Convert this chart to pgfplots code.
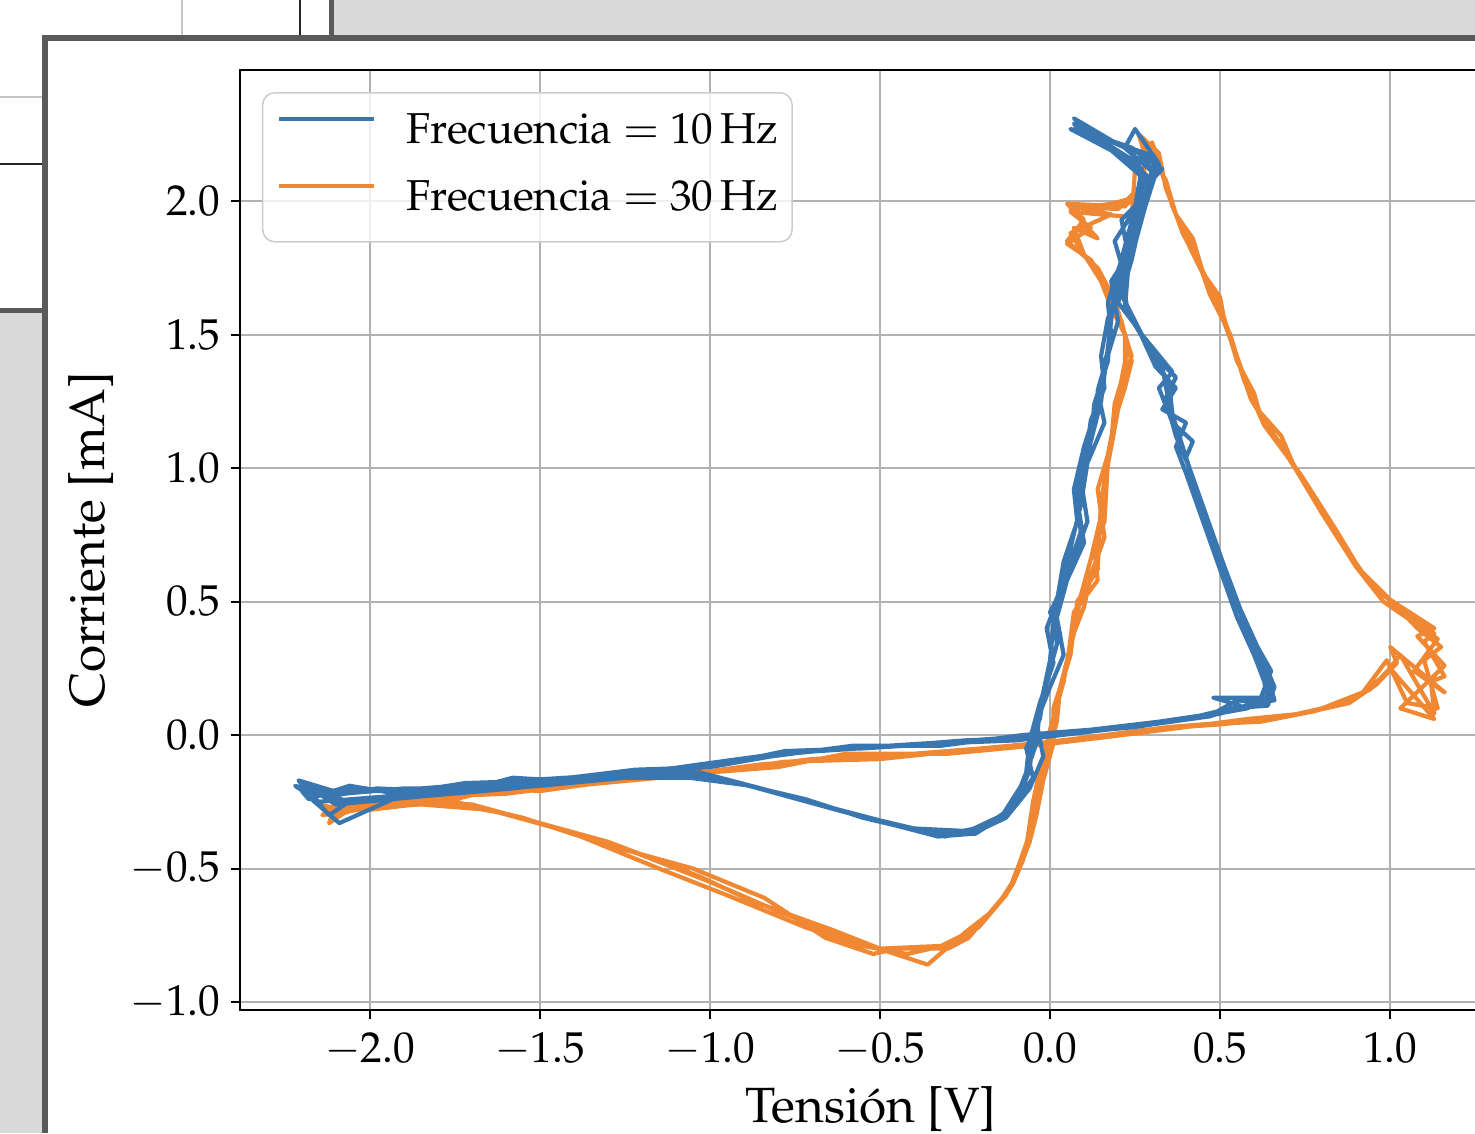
\documentclass[border=0pt]{standalone}
\usepackage[T1]{fontenc}
\usepackage{mathpazo}
\usepackage{pgfplots}
\pgfplotsset{compat=1.18}

\definecolor{c10}{RGB}{58,119,176}
\definecolor{c30}{RGB}{239,135,51}
\definecolor{uigray}{RGB}{217,217,217}
\definecolor{uidark}{RGB}{90,90,90}
\definecolor{gridc}{RGB}{178,178,178}
\definecolor{legc}{RGB}{204,204,204}

\newcommand{\tickfont}{\fontsize{12.3}{14}\selectfont}
\newcommand{\labfont}{\fontsize{14.1}{16}\selectfont}

\begin{document}
\begin{tikzpicture}
  \useasboundingbox (0,0) rectangle (147.5mm,113.3mm);
  \clip (0,0) rectangle (147.5mm,113.3mm);
  % window frame around the figure
  \fill[uigray] (33.4mm,109.8mm) rectangle (147.5mm,113.3mm);
  \fill[uigray] (0,0) rectangle (4.2mm,82.0mm);
  \fill[uidark] (4.2mm,109.2mm) rectangle (147.5mm,109.8mm);
  \fill[uidark] (4.2mm,0) rectangle (4.8mm,109.8mm);
  \fill[uidark] (32.9mm,109.8mm) rectangle (33.4mm,113.3mm);
  \fill[uidark] (0,82.0mm) rectangle (4.2mm,82.5mm);
  \draw[gray!45, line width=0.15mm] (18.2mm,109.8mm) -- (18.2mm,113.3mm);
  \draw[black!85, line width=0.12mm] (30.0mm,109.8mm) -- (30.0mm,113.3mm);
  \draw[gray!45, line width=0.15mm] (0,103.6mm) -- (4.2mm,103.6mm);
  \draw[black!85, line width=0.12mm] (0,96.9mm) -- (4.2mm,96.9mm);

  \begin{axis}[
    at={(24mm,12.3mm)}, anchor=south west,
    scale only axis, width=126.2mm, height=94mm,
    xmin=-2.382, xmax=1.329, ymin=-1.030, ymax=2.491,
    xtick={-2,-1.5,...,1}, ytick={-1,-0.5,...,2},
    tick pos=left,
    tick align=outside, major tick length=0.9mm,
    tick style={black, line width=0.2mm},
    axis line style={black, line width=0.2mm},
    grid=major, major grid style={gridc, line width=0.2mm},
    xticklabel style={font=\tickfont, anchor=base, inner sep=0pt, yshift=-4.3mm,
      /pgf/number format/.cd, fixed, fixed zerofill, precision=1},
    yticklabel style={font=\tickfont, anchor=east, inner sep=0pt, xshift=-1.0mm,
      /pgf/number format/.cd, fixed, fixed zerofill, precision=1},
    xlabel={Tensi\'on [V]},
    ylabel={Corriente [mA]},
    every axis x label/.style={at={(axis description cs:0.5,0)}, yshift=-11.2mm,
      anchor=base, font=\labfont},
    every axis y label/.style={at={(axis description cs:0,0.5)}, xshift=-13.5mm,
      rotate=90, anchor=base, font=\labfont},
    legend cell align=left,
    legend style={at={(0.01743,0.9766)}, anchor=north west,
      draw=legc, line width=0.15mm, fill=white, fill opacity=0.8,
      text opacity=1, draw opacity=1, rounded corners=1.2mm,
      inner xsep=1.4mm, inner ysep=2.1mm, row sep=2.7mm,
      nodes={inner sep=0pt, text height=3.0mm, text depth=1.0mm, font=\tickfont}},
    legend image code/.code={
      \draw[#1, line width=0.42mm] (0mm,1.5mm) -- (9.5mm,1.5mm);
      \path[draw=none, fill=none] (0mm,1.5mm) -- (12.8mm,1.5mm);},
  ]
    \addlegendimage{c10}
    \addlegendentry{Frecuencia $=$ 10\,Hz}
    \addlegendimage{c30}
    \addlegendentry{Frecuencia $=$ 30\,Hz}

    % 30 Hz
    \addplot[c30, line width=0.42mm, line join=round, forget plot] coordinates {
      (-2.14,-0.27) (-2.00,-0.26) (-1.85,-0.24) (-1.65,-0.22) (-1.40,-0.19) (-1.15,-0.16)
      (-0.85,-0.11) (-0.55,-0.08) (-0.25,-0.06) (-0.02,-0.03) (0.20,0.00) (0.45,0.04)
      (0.62,0.05) (0.78,0.09) (0.90,0.14) (0.98,0.22) (1.03,0.30) (1.13,0.08) (1.12,0.20)
      (1.16,0.22) (1.10,0.35) (1.13,0.38) (1.04,0.46) (0.93,0.58) (0.84,0.77) (0.74,0.97)
      (0.66,1.11) (0.59,1.26) (0.54,1.45) (0.49,1.62) (0.46,1.70) (0.41,1.83) (0.36,1.98)
      (0.33,2.10) (0.31,2.19) (0.27,2.24) (0.28,2.06) (0.22,1.98) (0.05,1.99) (0.10,1.93)
      (0.05,1.85) (0.14,1.75) (0.19,1.63) (0.23,1.46) (0.21,1.33) (0.20,1.22) (0.18,1.08)
      (0.15,0.88) (0.14,0.62) (0.08,0.50) (0.06,0.30) (0.02,0.13) (0.00,-0.05) (-0.03,-0.13)
      (-0.05,-0.25) (-0.07,-0.42) (-0.10,-0.53) (-0.15,-0.63) (-0.21,-0.72) (-0.32,-0.79)
      (-0.50,-0.80) (-0.64,-0.73) (-0.88,-0.62) (-1.03,-0.53) (-1.30,-0.40) (-1.50,-0.33)
      (-1.70,-0.26) (-1.90,-0.25) (-2.05,-0.27) (-2.12,-0.33)
      (-2.10,-0.26) (-1.95,-0.27) (-1.80,-0.23) (-1.60,-0.22) (-1.35,-0.18) (-1.10,-0.15)
      (-0.80,-0.12) (-0.60,-0.07) (-0.30,-0.07) (-0.05,-0.04) (0.15,-0.01) (0.40,0.03)
      (0.58,0.06) (0.74,0.08) (0.88,0.12) (0.96,0.19) (1.02,0.27) (1.00,0.33) (1.16,0.16)
      (1.07,0.24) (1.14,0.36) (1.06,0.43) (0.98,0.50) (0.90,0.63) (0.80,0.83) (0.72,1.00)
      (0.68,1.12) (0.61,1.22) (0.56,1.38) (0.52,1.53) (0.48,1.66) (0.44,1.76) (0.39,1.88)
      (0.35,2.02) (0.32,2.15) (0.30,2.22) (0.25,2.12) (0.24,1.94) (0.06,1.96) (0.12,1.90)
      (0.05,1.84) (0.12,1.78) (0.17,1.67) (0.20,1.58) (0.24,1.42) (0.20,1.28) (0.19,1.15)
      (0.17,1.02) (0.16,0.80) (0.13,0.70) (0.14,0.58) (0.07,0.46) (0.05,0.26) (0.01,0.10)
      (0.01,-0.03) (-0.02,-0.17) (-0.04,-0.30) (-0.06,-0.40) (-0.09,-0.50) (-0.13,-0.60)
      (-0.19,-0.69) (-0.28,-0.78) (-0.42,-0.82) (-0.55,-0.79) (-0.72,-0.72) (-0.95,-0.60)
      (-1.15,-0.50) (-1.38,-0.38) (-1.55,-0.31) (-1.75,-0.25) (-1.98,-0.27) (-2.14,-0.30)
      (-2.13,-0.29) (-2.02,-0.25) (-1.88,-0.25) (-1.70,-0.21) (-1.45,-0.20) (-1.20,-0.16)
      (-0.95,-0.13) (-0.70,-0.09) (-0.40,-0.07) (-0.10,-0.04) (0.10,-0.01) (0.35,0.03)
      (0.55,0.05) (0.70,0.07) (0.84,0.11) (0.94,0.17) (1.00,0.25) (1.13,0.06) (1.03,0.10)
      (1.16,0.26) (1.08,0.37) (1.13,0.40) (1.02,0.49) (0.95,0.55) (0.87,0.70) (0.77,0.90)
      (0.70,1.04) (0.63,1.16) (0.57,1.33) (0.53,1.50) (0.47,1.65) (0.43,1.80) (0.38,1.92)
      (0.34,2.05) (0.32,2.18) (0.26,2.25) (0.30,2.10) (0.20,1.97) (0.07,1.98) (0.18,1.95)
      (0.06,1.88) (0.15,1.70) (0.18,1.60) (0.22,1.50) (0.22,1.37) (0.19,1.24) (0.18,1.10)
      (0.16,0.95) (0.15,0.82) (0.12,0.66) (0.09,0.52) (0.07,0.38) (0.03,0.18) (0.02,0.05)
      (-0.01,-0.09) (-0.04,-0.22) (-0.05,-0.35) (-0.08,-0.47) (-0.11,-0.56) (-0.17,-0.66)
      (-0.25,-0.74) (-0.36,-0.86) (-0.48,-0.81) (-0.60,-0.76) (-0.80,-0.66) (-1.00,-0.55)
      (-1.22,-0.44) (-1.45,-0.35) (-1.65,-0.28) (-1.85,-0.26) (-2.08,-0.28) (-2.15,-0.26)
      (-2.11,-0.31) (-1.97,-0.24) (-1.78,-0.25) (-1.62,-0.20) (-1.50,-0.21) (-1.28,-0.17)
      (-1.05,-0.15) (-0.78,-0.10) (-0.50,-0.09) (-0.20,-0.05) (0.05,-0.02) (0.28,0.02)
      (0.50,0.04) (0.66,0.06) (0.80,0.10) (0.92,0.16) (0.99,0.28) (1.05,0.12) (1.14,0.10)
      (1.10,0.28) (1.15,0.33) (1.08,0.40) (0.99,0.52) (0.91,0.62) (0.82,0.80) (0.76,0.92)
      (0.69,1.07) (0.62,1.19) (0.60,1.28) (0.55,1.40) (0.51,1.57) (0.50,1.64) (0.45,1.73)
      (0.42,1.86) (0.37,1.95) (0.34,2.08) (0.30,2.16) (0.28,2.21) (0.27,2.02) (0.18,1.99)
      (0.06,1.97) (0.14,1.86) (0.07,1.90) (0.10,1.80) (0.16,1.68) (0.21,1.55) (0.24,1.40)
      (0.22,1.30) (0.19,1.18) (0.17,1.05) (0.14,0.92) (0.16,0.74) (0.12,0.60) (0.10,0.48)
      (0.06,0.35) (0.04,0.20) (0.00,0.02) (-0.02,-0.10) (-0.03,-0.20) (-0.06,-0.37)
      (-0.09,-0.48) (-0.12,-0.58) (-0.18,-0.67) (-0.24,-0.76) (-0.30,-0.80) (-0.45,-0.80)
      (-0.52,-0.82) (-0.66,-0.76) (-0.84,-0.61) (-1.05,-0.50) (-1.25,-0.43) (-1.42,-0.36)
      (-1.62,-0.29) (-1.80,-0.25) (-2.00,-0.28) (-2.14,-0.27)
    };

    % 10 Hz
    \addplot[c10, line width=0.42mm, line join=round, forget plot] coordinates {
      (-2.20,-0.19) (-2.10,-0.21) (-1.95,-0.21) (-1.75,-0.19) (-1.50,-0.18) (-1.25,-0.15)
      (-1.03,-0.11) (-0.80,-0.07) (-0.50,-0.045) (-0.25,-0.02) (-0.05,-0.01) (0.15,0.02)
      (0.35,0.05) (0.50,0.08) (0.60,0.12) (0.66,0.13) (0.64,0.22) (0.59,0.36) (0.54,0.52)
      (0.49,0.69) (0.44,0.88) (0.39,1.07) (0.36,1.20) (0.35,1.32) (0.29,1.45) (0.22,1.60)
      (0.23,1.75) (0.26,1.92) (0.29,2.05) (0.32,2.14) (0.25,2.27) (0.22,2.20) (0.08,2.28)
      (0.17,2.21) (0.27,2.12) (0.25,1.98) (0.22,1.82) (0.19,1.66) (0.17,1.45) (0.15,1.25)
      (0.11,1.05) (0.08,0.92) (0.09,0.76) (0.05,0.61) (0.01,0.48) (0.02,0.34) (-0.02,0.15)
      (-0.05,0.00) (-0.06,-0.13) (-0.10,-0.26) (-0.20,-0.35) (-0.31,-0.38) (-0.50,-0.32)
      (-0.65,-0.27) (-0.85,-0.20) (-1.03,-0.14) (-1.25,-0.16) (-1.50,-0.19) (-1.80,-0.22)
      (-2.05,-0.24) (-2.12,-0.30)
      (-2.21,-0.17) (-2.08,-0.22) (-1.90,-0.20) (-1.70,-0.20) (-1.58,-0.16) (-1.45,-0.17)
      (-1.20,-0.14) (-1.00,-0.12) (-0.78,-0.06) (-0.55,-0.05) (-0.30,-0.03) (-0.10,-0.02)
      (0.10,0.01) (0.30,0.04) (0.47,0.07) (0.56,0.11) (0.48,0.14) (0.62,0.14) (0.65,0.24)
      (0.61,0.33) (0.56,0.47) (0.51,0.64) (0.46,0.82) (0.41,1.00) (0.37,1.12) (0.34,1.26)
      (0.37,1.34) (0.30,1.43) (0.23,1.58) (0.21,1.72) (0.24,1.86) (0.27,1.99) (0.31,2.10)
      (0.30,2.17) (0.19,2.22) (0.07,2.31) (0.14,2.24) (0.29,2.09) (0.28,2.02) (0.21,1.93)
      (0.23,1.80) (0.18,1.70) (0.20,1.55) (0.16,1.38) (0.14,1.29) (0.16,1.17) (0.11,1.02)
      (0.09,0.86) (0.06,0.70) (0.04,0.56) (0.00,0.46) (0.03,0.38) (-0.01,0.22) (-0.03,0.06)
      (-0.07,-0.05) (-0.05,-0.16) (-0.12,-0.29) (-0.22,-0.37) (-0.35,-0.37) (-0.55,-0.31)
      (-0.72,-0.24) (-0.92,-0.18) (-1.10,-0.14) (-1.35,-0.17) (-1.60,-0.20) (-1.88,-0.21)
      (-2.09,-0.33)
      (-2.19,-0.22) (-2.05,-0.20) (-1.88,-0.22) (-1.65,-0.18) (-1.40,-0.16) (-1.15,-0.13)
      (-0.95,-0.10) (-0.70,-0.06) (-0.45,-0.04) (-0.20,-0.02) (0.00,0.00) (0.20,0.03)
      (0.40,0.06) (0.53,0.10) (0.64,0.11) (0.66,0.18) (0.63,0.27) (0.58,0.40) (0.53,0.57)
      (0.48,0.73) (0.43,0.92) (0.40,1.04) (0.42,1.10) (0.36,1.17) (0.32,1.30) (0.36,1.36)
      (0.27,1.50) (0.21,1.65) (0.24,1.78) (0.27,1.95) (0.30,2.08) (0.33,2.12) (0.24,2.20)
      (0.10,2.26) (0.08,2.30) (0.20,2.18) (0.30,2.06) (0.26,1.96) (0.24,1.86) (0.20,1.73)
      (0.18,1.58) (0.17,1.40) (0.13,1.24) (0.12,1.10) (0.09,0.96) (0.11,0.80) (0.07,0.66)
      (0.03,0.52) (0.01,0.42) (0.00,0.28) (-0.03,0.10) (-0.04,-0.03) (-0.08,-0.18)
      (-0.14,-0.30) (-0.24,-0.36) (-0.40,-0.35) (-0.60,-0.29) (-0.80,-0.22) (-1.00,-0.15)
      (-1.20,-0.15) (-1.45,-0.18) (-1.70,-0.21) (-1.95,-0.23) (-2.15,-0.25)
      (-2.22,-0.19) (-2.12,-0.23) (-1.98,-0.20) (-1.80,-0.21) (-1.55,-0.17) (-1.30,-0.15)
      (-1.08,-0.12) (-0.85,-0.08) (-0.60,-0.05) (-0.35,-0.03) (-0.12,-0.01) (0.08,0.01)
      (0.25,0.03) (0.45,0.07) (0.58,0.10) (0.65,0.15) (0.62,0.26) (0.57,0.42) (0.52,0.60)
      (0.47,0.78) (0.42,0.96) (0.38,1.12) (0.35,1.24) (0.33,1.38) (0.25,1.54) (0.20,1.68)
      (0.25,1.84) (0.28,1.98) (0.31,2.10) (0.21,2.21) (0.09,2.26) (0.07,2.29) (0.16,2.22)
      (0.26,2.14) (0.27,2.03) (0.23,1.88) (0.21,1.78) (0.17,1.62) (0.18,1.50) (0.15,1.33)
      (0.13,1.20) (0.10,1.08) (0.07,0.92) (0.08,0.80) (0.04,0.65) (0.02,0.50) (-0.01,0.40)
      (0.01,0.27) (-0.03,0.12) (-0.06,-0.02) (-0.07,-0.14) (-0.11,-0.27) (-0.18,-0.34)
      (-0.30,-0.37) (-0.45,-0.34) (-0.62,-0.28) (-0.82,-0.21) (-1.02,-0.15) (-1.28,-0.16)
      (-1.55,-0.19) (-1.82,-0.22) (-2.05,-0.25) (-2.20,-0.21)
      (-2.18,-0.24) (-2.06,-0.19) (-1.92,-0.22) (-1.72,-0.18) (-1.48,-0.17) (-1.22,-0.13)
      (-1.00,-0.12) (-0.82,-0.08) (-0.58,-0.04) (-0.32,-0.04) (-0.08,0.00) (0.12,0.02)
      (0.32,0.05) (0.48,0.08) (0.55,0.13) (0.64,0.12) (0.63,0.20) (0.60,0.30) (0.55,0.44)
      (0.50,0.62) (0.45,0.80) (0.40,0.98) (0.37,1.08) (0.40,1.17) (0.33,1.22) (0.37,1.30)
      (0.31,1.38) (0.26,1.52) (0.20,1.62) (0.22,1.70) (0.25,1.88) (0.28,2.00) (0.30,2.12)
      (0.26,2.18) (0.13,2.25) (0.06,2.27) (0.18,2.19) (0.28,2.08) (0.24,1.95) (0.19,1.85)
      (0.22,1.72) (0.17,1.56) (0.15,1.42) (0.16,1.30) (0.12,1.18) (0.10,1.00) (0.08,0.88)
      (0.10,0.72) (0.05,0.58) (0.02,0.44) (0.04,0.30) (0.00,0.18) (-0.04,0.05) (-0.02,-0.08)
      (-0.06,-0.20) (-0.13,-0.31) (-0.23,-0.37) (-0.33,-0.38) (-0.48,-0.33) (-0.68,-0.26)
      (-0.88,-0.19) (-1.06,-0.16) (-1.32,-0.16) (-1.58,-0.20) (-1.85,-0.23) (-2.10,-0.26)
      (-2.20,-0.18)
    };
  \end{axis}
\end{tikzpicture}
\end{document}
